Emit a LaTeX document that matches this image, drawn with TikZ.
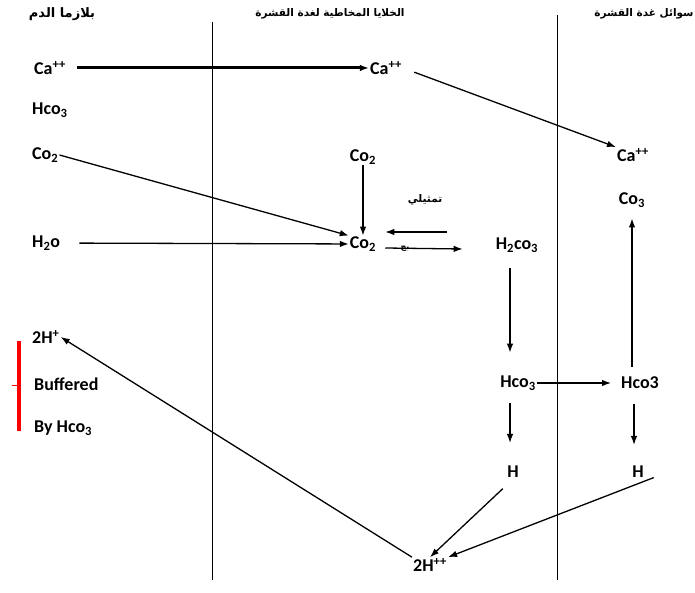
\documentclass[tikz,border=0pt]{standalone}
\usepackage{fontspec}
\setmainfont{Carlito}
\newfontfamily\arabicfont[Script=Arabic]{DejaVu Sans}
\TeXXeTstate=1
\usetikzlibrary{positioning,arrows.meta}

\begin{document}
\begin{tikzpicture}[x=1pt,y=-1pt,
		chem/.style={font=\bfseries\fontsize{18}{21}\selectfont,inner sep=1pt},
		head/.style={font=\arabicfont\bfseries\fontsize{10.5}{12}\selectfont,inner sep=1pt},
		flow/.style={-{Latex[length=9pt,width=6.5pt]},line width=1.3pt},
		wall/.style={line width=0.6pt}]
	\useasboundingbox (0,0) rectangle (695,593);
	% column headings
	\node[head,font=\arabicfont\bfseries\fontsize{13}{15}\selectfont] (plasma) at (62,14) {\beginR بلازما الدم\endR};
	\node[head] (mucosa) at (330,14) {\beginR الخلايا المخاطية لغدة القشرة\endR};
	\node[head] (fluid)  at (644,14) {\beginR سوائل غدة القشرة\endR};
	% walls
	\coordinate (W1a) at (212,22);  \coordinate (W1b) at (212,580);
	\coordinate (W2a) at (557,15);  \coordinate (W2b) at (557,580);
	\draw[wall] (W1a) -- (W1b);
	\draw[wall] (W2a) -- (W2b);
	% blood plasma
	\node[chem,anchor=west] (CaP)  at (33,68)  {Ca\textsuperscript{++}};
	\node[chem,anchor=west] (HcoP) at (31,110) {Hco\textsubscript{3}};
	\node[chem,anchor=west] (CoP)  at (31,155) {Co\textsubscript{2}};
	\node[chem,anchor=west] (HoP)  at (31,243) {H\textsubscript{2}o};
	\node[chem,anchor=west] (HP)   at (31,337) {2H\textsuperscript{+}};
	\node[chem,anchor=west] (Buf)  at (33,384) {Buffered};
	\node[chem,anchor=west] (ByH)  at (33,428) {By Hco\textsubscript{3}};
	% mucous cells
	\node[chem] (CaM)   at (386,68)  {Ca\textsuperscript{++}};
	\node[chem] (CoTop) at (363,157) {Co\textsubscript{2}};
	\node[chem] (CoM)   at (363,244) {Co\textsubscript{2}};
	\node[chem] (H2co)  at (517,245) {H\textsubscript{2}co\textsubscript{3}};
	\node[chem] (HcoM)  at (518,383) {Hco\textsubscript{3}};
	\node[chem] (HM)    at (513,472) {H};
	\node[chem] (HHM)   at (430,565) {2H\textsuperscript{++}};
	\node[head] (enz)   at (425,200) {\beginR تمثيلي\endR};
	\node[head,font=\arabicfont\bfseries\fontsize{8}{9}\selectfont] (enz2) at (405,249) {\beginR بح\endR};
	% shell gland fluid
	\node[chem] (CaS)  at (633,155) {Ca\textsuperscript{++}};
	\node[chem] (CoS)  at (632,200) {Co\textsubscript{3}};
	\node[chem] (HcoS) at (640,383) {Hco3};
	\node[chem] (HS)   at (638,472) {H};
	% buffer bracket
	\draw[red,line width=4pt] (19,341) -- (19,431);
	\draw[red,line width=1pt] (17,385) -- (12,385);

	\draw[flow,line width=3pt,shorten <=10pt] (CaP.east) -- (CaM.west);
	\draw[flow,shorten <=12pt] (CaM.east) -- (CaS.north west);
	\draw[flow] (CoP.east) -- (CoM.north west);
	\draw[flow] (CoTop) -- (CoM);
	\draw[flow,shorten <=18pt] (HoP) -- (CoM);
	\draw[flow] ([shift={(70pt,12pt)}]CoM.east) -- ([shift={(8pt,12pt)}]CoM.east);
	\draw[flow] ([shift={(8pt,-4pt)}]CoM.east) -- ([shift={(-32pt,-4pt)}]H2co.west);
	\draw[flow,shorten <=15pt,shorten >=22pt] ([xshift=-7pt]H2co.south) -- ([xshift=-8pt]HcoM.north);
	\draw[flow,shorten >=9pt] (HcoM.east) -- (HcoS.west);
	\draw[flow,shorten <=9pt,shorten >=10pt] ([xshift=-8pt]HcoS.north) -- (CoS.south);
	\draw[flow,shorten <=12pt,shorten >=22pt] ([xshift=-8pt]HcoM.south) -- ([xshift=-3pt]HM.north);
	\draw[flow,shorten <=14pt,shorten >=20pt] ([xshift=-6pt]HcoS.south) -- ([xshift=-4pt]HS.north);
	\draw[flow,shorten <=14pt] (HM.south) -- (HHM.north);
	\draw[flow,shorten <=-4pt] ([xshift=12pt]HS.south) -- (HHM.north east);
	\draw[flow] (HHM.north west) -- (HP.east);
\end{tikzpicture}
\end{document}
